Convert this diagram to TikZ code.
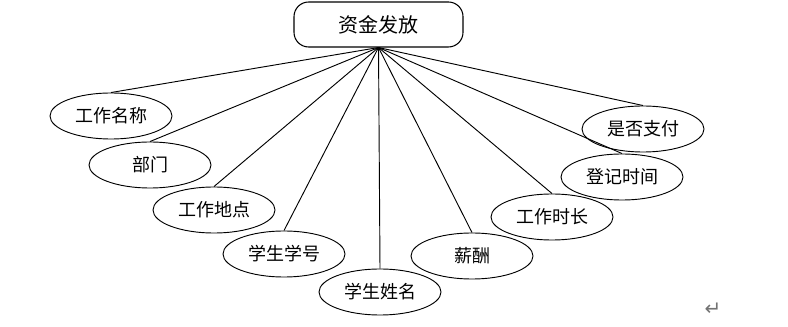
\documentclass[tikz,border=0pt]{standalone}
\usepackage{fontspec}
\newfontfamily\cjk{Noto Sans CJK SC}
\newfontfamily\symfont{DejaVu Sans}
\usetikzlibrary{positioning}
\usetikzlibrary{shapes.geometric}
\def\ellipseWidth{91.5pt}
\def\ellipseHeight{34.5pt}
\tikzset{% ER diagram styles
  entity/.style    = {draw, thin, line width=0.8pt, rounded corners=11pt, minimum width=126.75pt,
    minimum height=33.75pt, inner sep=0, align=center, font=\cjk\fontsize{15}{17}\selectfont},
  attribute/.style = {draw, ellipse, line width=0.7pt, minimum width=\ellipseWidth,
    minimum height=\ellipseHeight, inner sep=0, font=\cjk\fontsize{13.5}{15}\selectfont},
  link/.style      = {line width=0.7pt},
}
\begin{document}
\begin{tikzpicture}[x=0.75pt, y=-0.75pt]
        \useasboundingbox (0,0) rectangle (788,327);

          \node[entity] at (378.5,24.5)(FP) {资金发放};

          \node[attribute] at (111,116)(JN) {工作名称};
          \node[attribute] at (150,165)(Dep) {部门};
          \node[attribute] at (214,210)(JP) {工作地点};
          \node[attribute] at (284,254)(SNo) {学生学号};
          \node[attribute] at (380,292)(SN) {学生姓名};
          \node[attribute] at (472,256)(Sal) {薪酬};
          \node[attribute] at (552,217)(WH) {工作时长};
          \node[attribute] at (622,177)(RT) {登记时间};
          \node[attribute] at (643,129)(PD) {是否支付};

        \foreach \attr in {JN, Dep, JP, SNo, SN, Sal, WH, RT, PD}
          \draw[link] (FP.south) -- (\attr.north);

          \node[text=black!55, font=\symfont\fontsize{15}{17}\selectfont] at (713,309)(Ret) {↵};

\end{tikzpicture}
\end{document}
